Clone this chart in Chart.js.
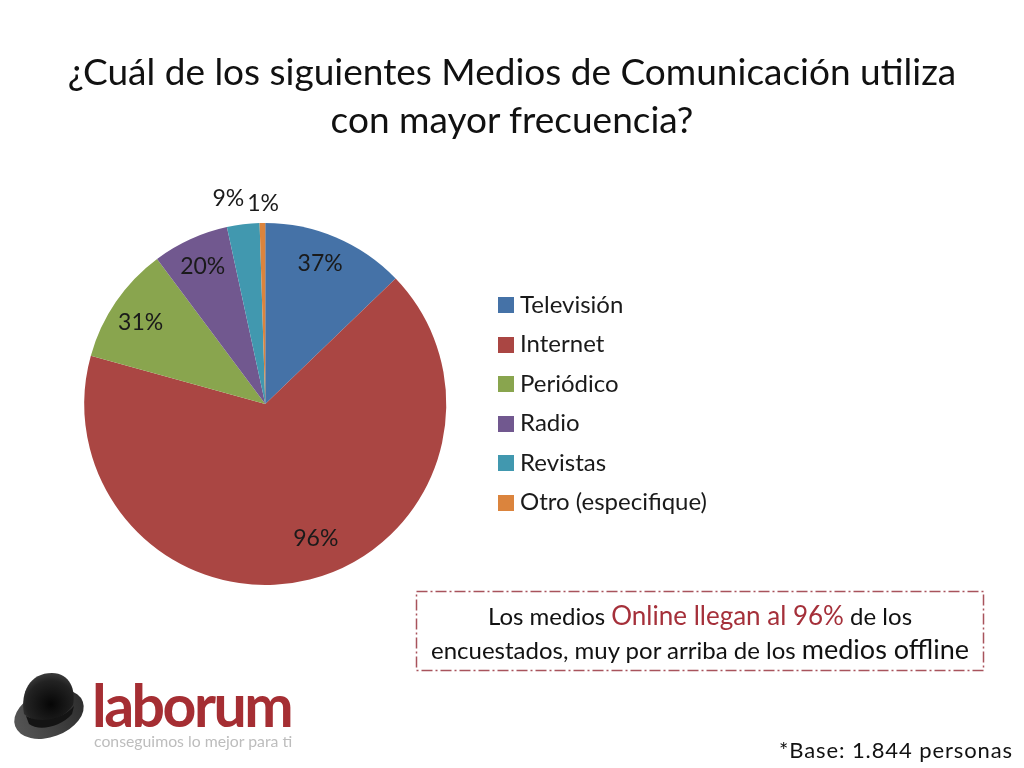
<!DOCTYPE html>
<html lang="es">
<head>
<meta charset="utf-8">
<title>Medios de Comunicación</title>
<script src="https://cdn.jsdelivr.net/npm/chart.js@4"></script>
<style>
html, body { margin: 0; padding: 0; background: #fff; }
body { width: 1024px; height: 768px; position: relative; overflow: hidden; font-family: Lato, sans-serif; color: #111; }
#chart { position: absolute; left: 0; top: 0; }
.abs { position: absolute; white-space: nowrap; }
#title { left: 0; width: 1024px; top: 47px; text-align: center; font-size: 37px; line-height: 48px; }
#note { left: 416px; width: 568px; top: 599px; text-align: center; font-size: 24px; line-height: 33px; }
#note .red { color: #a5303a; font-size: 26px; }
#note .big { font-size: 27px; }
#base { right: 11px; top: 736px; font-size: 22px; letter-spacing: 0.9px; }
#brand { left: 92px; top: 671px; font-size: 59px; font-weight: 700; color: #a52e33; letter-spacing: -2.5px; line-height: 68px; }
#tag { left: 94px; top: 729px; font-size: 15.8px; color: #bdbdbd; line-height: 24px; }
svg { position: absolute; left: 0; top: 0; }
</style>
</head>
<body>
<canvas id="chart" width="1024" height="768"></canvas>

<svg width="1024" height="768">
  <defs>
    <radialGradient id="hatTop" cx="0.55" cy="0.65" r="0.75">
      <stop offset="0" stop-color="#060606"/>
      <stop offset="0.65" stop-color="#222"/>
      <stop offset="1" stop-color="#4a4a4a"/>
    </radialGradient>
    <linearGradient id="hatBrim" x1="0" y1="0" x2="1" y2="0">
      <stop offset="0" stop-color="#555"/>
      <stop offset="1" stop-color="#2e2e2e"/>
    </linearGradient>
  </defs>
  <rect x="416.5" y="591.5" width="567" height="79" fill="none" stroke="#a8535c" stroke-width="1.5" stroke-dasharray="11 3 2 3"/>
  <ellipse cx="49" cy="714" rx="36" ry="23" transform="rotate(-20 49 714)" fill="url(#hatBrim)"/>
  <path d="M24 714 C20 692 30 673 52 673 C70 673 76 690 73 705 C62 722 38 726 24 714 Z" fill="url(#hatTop)"/>
  <path d="M26 716 C40 724 62 720 74 706 L72 714 C60 728 38 731 29 724 Z" fill="#141414"/>
</svg>

<div class="abs" id="title">¿Cuál de los siguientes Medios de Comunicación utiliza<br>con mayor frecuencia?</div>
<div class="abs" id="note">Los medios <span class="red">Online llegan al 96%</span> de los<br>encuestados, muy por arriba de los <span class="big">medios offline</span></div>
<div class="abs" id="base">*Base: 1.844 personas</div>
<div class="abs" id="brand">laborum</div>
<div class="abs" id="tag">conseguimos lo mejor para ti</div>

<script>
// Categories and values
const categories = ['Televisión', 'Internet', 'Periódico', 'Radio', 'Revistas', 'Otro (especifique)'];
// slice sizes as drawn (the printed labels do not add up to 100)
const sliceValues = [12.8, 66.5, 10.5, 6.8, 2.9, 0.5];
const printedLabels = ['37%', '96%', '31%', '20%', '9%', '1%'];
const sliceColors = ['#4572a7', '#aa4643', '#89a54e', '#71588f', '#4198af', '#db843d'];

// Distance of each label from the centre, and angle shift in radians
const labelRadius = [151, 144, 149, 151, 209, 200];
const labelShift = [-0.03, -0.11, -0.02, 0, -0.055, 0.005];

// Square swatch for the legend, so the gap to the text stays small
function makeSwatch(color) {
    const c = document.createElement('canvas');
    c.width = 16;
    c.height = 16;
    const g = c.getContext('2d');
    g.fillStyle = color;
    g.fillRect(0, 0, 16, 16);
    return c;
}

const sliceLabelPlugin = {
    id: 'sliceLabels',
    afterDatasetsDraw(chart) {
        const ctx = chart.ctx;
        ctx.save();
        ctx.font = '23px Lato';
        ctx.fillStyle = '#1a1a1a';
        ctx.textAlign = 'center';
        ctx.textBaseline = 'middle';
        chart.getDatasetMeta(0).data.forEach((arc, i) => {
            const mid = (arc.startAngle + arc.endAngle) / 2 + labelShift[i];
            ctx.fillText(printedLabels[i], arc.x + Math.cos(mid) * labelRadius[i], arc.y + Math.sin(mid) * labelRadius[i]);
        });
        ctx.restore();
    }
};

new Chart(document.getElementById('chart'), {
    type: 'pie',
    data: {
        labels: categories,
        datasets: [{
            data: sliceValues,
            backgroundColor: sliceColors,
            borderWidth: 0
        }]
    },
    options: {
        responsive: false,
        animation: false,
        layout: { padding: { left: 42, top: 223, bottom: 183, right: 307 } },
        plugins: {
            tooltip: { enabled: false },
            title: { display: false },
            legend: {
                position: 'right',
                labels: {
                    font: { family: 'Lato', size: 24 },
                    color: '#1a1a1a',
                    padding: 15.5,
                    usePointStyle: true,
                    pointStyleWidth: 4,
                    generateLabels(chart) {
                        return categories.map((text, i) => ({
                            text: text,
                            pointStyle: makeSwatch(sliceColors[i]),
                            fontColor: '#1a1a1a',
                            lineWidth: 0,
                            index: i
                        }));
                    }
                }
            }
        }
    },
    plugins: [sliceLabelPlugin]
});
</script>
</body>
</html>
